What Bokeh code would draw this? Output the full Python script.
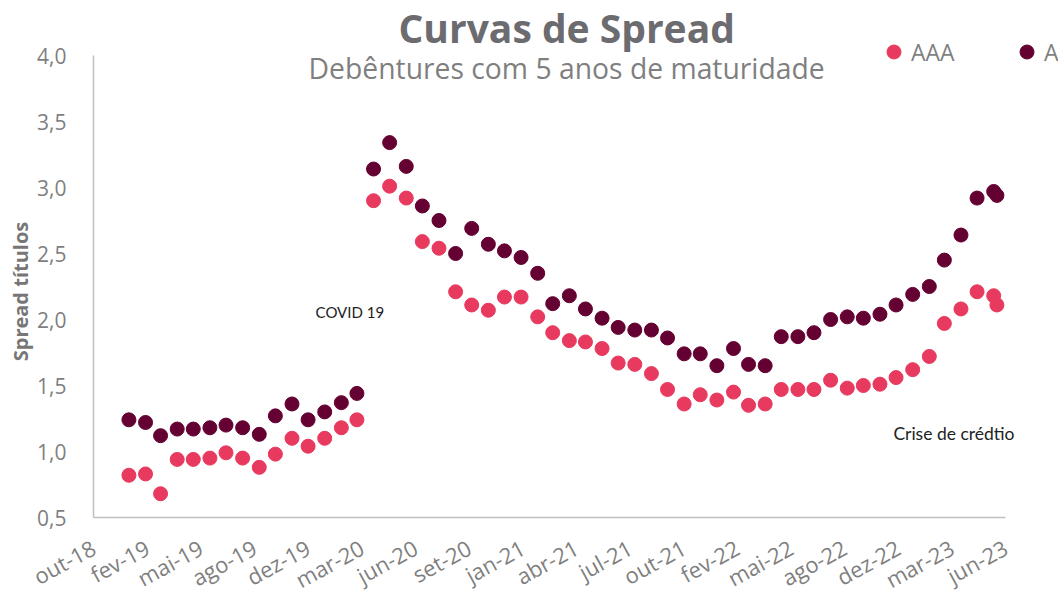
import math
from datetime import date
from bokeh.plotting import figure
from bokeh.models import (Range1d, FixedTicker, Label, Legend, LegendItem,
                          CustomJSTickFormatter, ColumnDataSource)
from bokeh.embed import file_html
from bokeh.resources import INLINE

# ---------------- data ----------------
axis_start = date(2018, 10, 27)
tick_labels = ["out-18", "fev-19", "mai-19", "ago-19", "dez-19", "mar-20",
               "jun-20", "set-20", "jan-21", "abr-21", "jul-21", "out-21",
               "fev-22", "mai-22", "ago-22", "dez-22", "mar-23", "jun-23"]
tick_step_days = 100
y_ticks = [0.5, 1.0, 1.5, 2.0, 2.5, 3.0, 3.5, 4.0]

# observation dates: monthly Jan-2019 .. Jun-2023 plus one extra
obs_dates = [date(2019 + (m // 12), m % 12 + 1, 1) for m in range(54)] + [date(2023, 6, 7)]

aaa = [0.82, 0.83, 0.68, 0.94, 0.94, 0.95, 0.99, 0.95, 0.88, 0.98,
       1.10, 1.04, 1.10, 1.18, 1.24, 2.90, 3.01, 2.92, 2.59, 2.54,
       2.21, 2.11, 2.07, 2.17, 2.17, 2.02, 1.90, 1.84, 1.83, 1.78,
       1.67, 1.66, 1.59, 1.47, 1.36, 1.43, 1.39, 1.45, 1.35, 1.36,
       1.47, 1.47, 1.47, 1.54, 1.48, 1.50, 1.51, 1.56, 1.62, 1.72,
       1.97, 2.08, 2.21, 2.18, 2.11]
a_rating = [1.24, 1.22, 1.12, 1.17, 1.17, 1.18, 1.20, 1.18, 1.13, 1.27,
            1.36, 1.24, 1.30, 1.37, 1.44, 3.14, 3.34, 3.16, 2.86, 2.75,
            2.50, 2.69, 2.57, 2.52, 2.47, 2.35, 2.12, 2.18, 2.08, 2.01,
            1.94, 1.92, 1.92, 1.86, 1.74, 1.74, 1.65, 1.78, 1.66, 1.65,
            1.87, 1.87, 1.90, 2.00, 2.02, 2.01, 2.04, 2.11, 2.19, 2.25,
            2.45, 2.64, 2.92, 2.97, 2.94]

# ---------------- styling ----------------
PINK = "#E8395F"
MAROON = "#640032"
GRAY_TXT = "#7F7F7F"
TITLE_C = "#6B6B70"
FONT = "Open Sans"

days = [(d - axis_start).days for d in obs_dates]
src = ColumnDataSource(dict(x=days, aaa=aaa, a=a_rating))

x_last = tick_step_days * (len(tick_labels) - 1)
W, H = 1058, 594
AXIS_LEFT_PX = 93            # y axis position from left of figure
AXIS_BOTTOM_PX = 517         # x axis position from top of figure
px_per_day = 912 / x_last
px_per_unit = 462 / (y_ticks[-1] - y_ticks[0])
x_lo = -AXIS_LEFT_PX / px_per_day
y_lo = y_ticks[0] - (H - AXIS_BOTTOM_PX) / px_per_unit

p = figure(width=W, height=H, output_backend="svg", toolbar_location=None,
           x_range=Range1d(x_lo, x_lo + W / px_per_day),
           y_range=Range1d(y_lo, y_lo + H / px_per_unit),
           min_border_left=0, min_border_right=0,
           min_border_top=0, min_border_bottom=0)
p.outline_line_color = None
p.grid.visible = False
p.background_fill_color = "white"
p.border_fill_color = "white"

r_a = p.scatter("x", "a", source=src, size=14, color=MAROON, line_color=MAROON)
r_aaa = p.scatter("x", "aaa", source=src, size=14, color=PINK, line_color=PINK)

# x axis (kept in the below panel, drawn at y = 0.5)
xt = [i * tick_step_days for i in range(len(tick_labels))]
p.xaxis.fixed_location = y_ticks[0]
p.xaxis.bounds = (0, x_last)
p.xaxis.ticker = FixedTicker(ticks=xt)
p.xaxis.major_label_overrides = {t: l for t, l in zip(xt, tick_labels)}
p.xaxis.major_label_orientation = 0.5
p.xaxis.major_label_text_font = FONT
p.xaxis.major_label_text_font_size = "22px"
p.xaxis.major_label_text_color = GRAY_TXT
p.xaxis.major_label_standoff = 22
p.xaxis.axis_line_color = "#BFBFBF"
p.xaxis.axis_line_width = 1.5
p.xaxis.major_tick_line_color = None
p.xaxis.minor_tick_line_color = None

# y axis (kept in the left panel, drawn at x = 0)
p.yaxis.fixed_location = 0
p.yaxis.bounds = (y_ticks[0], y_ticks[-1])
p.yaxis.ticker = FixedTicker(ticks=y_ticks)
p.yaxis.formatter = CustomJSTickFormatter(code="return tick.toFixed(1).replace('.', ',');")
p.yaxis.major_label_text_font = FONT
p.yaxis.major_label_text_font_size = "21px"
p.yaxis.major_label_text_color = GRAY_TXT
p.yaxis.major_label_standoff = 21
p.yaxis.axis_line_color = "#BFBFBF"
p.yaxis.axis_line_width = 1.5
p.yaxis.major_tick_line_color = None
p.yaxis.minor_tick_line_color = None

# y axis title
p.add_layout(Label(x=-73 / px_per_day, y=2.212, text="Spread títulos", angle=math.pi / 2,
                   text_align="center", text_baseline="middle", text_font=FONT,
                   text_font_style="bold", text_font_size="20px", text_color="#767676"))

# titles
p.add_layout(Label(x=882, y=4.212, text="Curvas de Spread", text_align="center",
                   text_baseline="alphabetic", text_font=FONT, text_font_style="bold",
                   text_font_size="39px", text_color=TITLE_C))
p.add_layout(Label(x=882, y=3.902, text="Debêntures com 5 anos de maturidade",
                   text_align="center", text_baseline="alphabetic", text_font=FONT,
                   text_font_size="28.3px", text_color=GRAY_TXT))

# annotations
p.add_layout(Label(x=414, y=2.06, text="COVID 19", text_align="left",
                   text_baseline="middle", text_font="Lato",
                   text_font_size="15px", text_color="#222222"))
p.add_layout(Label(x=1491, y=1.14, text="Crise de crédtio", text_align="left",
                   text_baseline="middle", text_font="Lato",
                   text_font_size="17.5px", text_color="#222222"))

# legend
legend = Legend(items=[LegendItem(label="AAA", renderers=[r_aaa]),
                       LegendItem(label="A", renderers=[r_a])],
                location=(876, H - 52 - 17), orientation="horizontal",
                glyph_width=35, glyph_height=35, label_standoff=-4,
                label_width=80, spacing=18, padding=0, margin=0,
                border_line_color=None, background_fill_alpha=0,
                label_text_font=FONT, label_text_font_size="23px",
                label_text_color=GRAY_TXT)
p.add_layout(legend, "center")

open("out.html", "w").write(file_html(p, INLINE))
